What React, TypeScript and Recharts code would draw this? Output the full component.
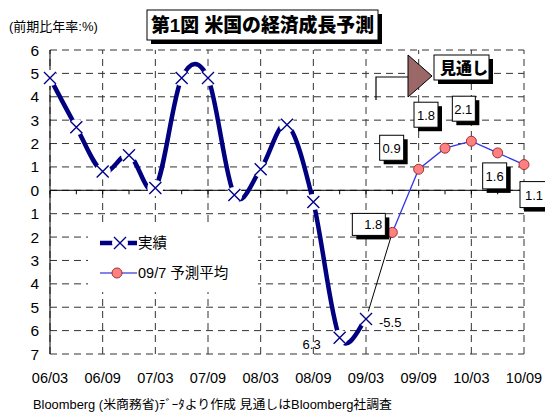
import React from 'react';
import {
  LineChart,
  Line,
  XAxis,
  YAxis,
  CartesianGrid,
  ReferenceLine,
  LabelList,
  Legend,
} from 'recharts';

// 四半期ラベル
const quarters = [
  '06/03', '06/06', '06/09', '06/12',
  '07/03', '07/06', '07/09', '07/12',
  '08/03', '08/06', '08/09', '08/12',
  '09/03', '09/06', '09/09', '09/12',
  '10/03', '10/06', '10/09',
];

// 実績 (前期比年率 %)
const actual = [
  4.8, 2.7, 0.8, 1.5, 0.1, 4.8, 4.8, -0.2, 0.9, 2.8, -0.5, -6.3, -5.5,
  null, null, null, null, null, null,
];

// 09/7 予測平均
const forecast = [
  null, null, null, null, null, null, null, null, null, null, null, null, null,
  -1.8, 0.9, 1.8, 2.1, 1.6, 1.1,
];

// 実績と予測をつなぐ線
const bridge = [
  null, null, null, null, null, null, null, null, null, null, null, null,
  -5.5, -1.8, null, null, null, null, null,
];

const yTicks = [-7, -6, -5, -4, -3, -2, -1, 0, 1, 2, 3, 4, 5, 6];

const data = quarters.map((q, i) => ({
  q,
  actual: actual[i],
  forecast: forecast[i],
  bridge: bridge[i],
}));

const FONT = '"Liberation Sans", Arial, "Noto Sans CJK JP", sans-serif';
const NAVY = '#000080';
const GRID = '#333';

// 予測値ラベルの箱の位置 (点からのずれ)
const boxOffsets: Record<string, { dx: number; dy: number; w: number; h: number }> = {
  '09/06': { dx: -40, dy: -19, w: 33, h: 22 },
  '09/09': { dx: -39, dy: -34, w: 24, h: 25 },
  '09/12': { dx: -31, dy: -46, w: 24, h: 25 },
  '10/03': { dx: -19, dy: -45, w: 23, h: 25 },
  '10/06': { dx: -15, dy: 10, w: 24, h: 26 },
  '10/09': { dx: -4, dy: 17, w: 26, h: 26 },
};

// Excel風のなめらかな線 (Catmull-Rom)
const smoothCurve = (context: any) => {
  let pts: number[][] = [];
  return {
    areaStart() {},
    areaEnd() {},
    lineStart() {
      pts = [];
    },
    point(x: number, y: number) {
      pts.push([+x, +y]);
    },
    lineEnd() {
      if (!pts.length) return;
      context.moveTo(pts[0][0], pts[0][1]);
      for (let i = 0; i < pts.length - 1; i++) {
        const p0 = pts[i - 1] || pts[i];
        const p1 = pts[i];
        const p2 = pts[i + 1];
        const p3 = pts[i + 2] || p2;
        context.bezierCurveTo(
          p1[0] + (p2[0] - p0[0]) / 6,
          p1[1] + (p2[1] - p0[1]) / 6,
          p2[0] - (p3[0] - p1[0]) / 6,
          p2[1] - (p3[1] - p1[1]) / 6,
          p2[0],
          p2[1],
        );
      }
    },
  };
};

const XMark = ({ cx, cy }: { cx: number; cy: number }) => (
  <g>
    <circle cx={cx} cy={cy} r={8} fill="#fff" />
    <path
      d={`M${cx - 6},${cy - 6}L${cx + 6},${cy + 6}M${cx + 6},${cy - 6}L${cx - 6},${cy + 6}`}
      stroke="#00008B"
      strokeWidth={1.4}
      fill="none"
    />
  </g>
);

const renderXDot = (props: any) => {
  const { cx, cy, index } = props;
  if (cx == null || cy == null || props.value == null) return <g key={index} />;
  return <XMark key={index} cx={cx} cy={cy} />;
};

const renderForecastBox = (props: any) => {
  const { x, y, value, index } = props;
  if (value == null || x == null || y == null) return null;
  const o = boxOffsets[quarters[index]];
  if (!o) return null;
  const bx = x + o.dx;
  const by = y + o.dy;
  return (
    <g>
      <rect x={bx + 4} y={by + 4} width={o.w} height={o.h} fill="#000" />
      <rect x={bx} y={by} width={o.w} height={o.h} fill="#fff" stroke="#000" />
      <text
        x={bx + o.w - 3}
        y={by + o.h / 2 + 5}
        textAnchor="end"
        fontSize={13}
        fontFamily={FONT}
        fill="#000"
      >
        {Math.abs(value).toFixed(1)}
      </text>
    </g>
  );
};

const renderActualLabel = (props: any) => {
  const { x, y, index } = props;
  const q = quarters[index];
  if (q === '08/12') {
    return (
      <text x={x - 19} y={y + 11} textAnchor="end" fontSize={13} fontFamily={FONT} fill="#000">
        {Math.abs(actual[index] as number).toFixed(1)}
      </text>
    );
  }
  if (q === '09/03') {
    return (
      <text x={x + 13} y={y + 8} textAnchor="start" fontSize={13} fontFamily={FONT} fill="#000">
        {(actual[index] as number).toFixed(1)}
      </text>
    );
  }
  return null;
};

const renderLegend = () => (
  <div style={{ background: '#fff', width: 170, height: 67 }}>
    <svg width={170} height={67}>
      <line x1={12} x2={49} y1={18} y2={18} stroke={NAVY} strokeWidth={4.5} />
      <XMark cx={32} cy={18} />
      <text x={50} y={23} fontSize={14.5} fontFamily={FONT} fill="#000">
        実績
      </text>
      <line x1={12} x2={49} y1={48} y2={48} stroke="#5a5ae0" strokeWidth={1.6} />
      <circle cx={29} cy={48} r={5} fill="#FF8080" stroke="#A03030" />
      <text x={50} y={53} fontSize={14.5} fontFamily={FONT} fill="#000">
        09/7 予測平均
      </text>
    </svg>
  </div>
);

export default function App() {
  const evenQuarters = quarters.filter((_, i) => i % 2 === 0);
  return (
    <div
      style={{
        position: 'absolute',
        left: 0,
        top: 0,
        width: 545,
        height: 414,
        background: '#fff',
        fontFamily: FONT,
      }}
    >
      <LineChart
        width={545}
        height={414}
        data={data}
        margin={{ top: 50, right: 21, bottom: 30, left: 0 }}
      >
        {/* 横の格子 */}
        <CartesianGrid vertical={false} stroke={GRID} strokeDasharray="7 5" />

        {/* 縦の格子 (半年ごと) */}
        {evenQuarters.map((q) => (
          <ReferenceLine key={'v' + q} x={q} stroke={GRID} strokeDasharray="7 5" />
        ))}

        {/* ゼロ線と目盛り */}
        <ReferenceLine y={0} stroke="#000" />
        {quarters.map((q) => (
          <ReferenceLine
            key={'t' + q}
            segment={[
              { x: q, y: 0 },
              { x: q, y: -0.17 },
            ]}
            stroke="#000"
          />
        ))}

        <XAxis
          dataKey="q"
          interval={1}
          axisLine={false}
          tickLine={false}
          tickSize={6}
          tickMargin={13}
          tick={{ fill: '#000', fontSize: 14.5, fontFamily: FONT }}
        />
        <YAxis
          width={50}
          domain={[-7, 6]}
          ticks={yTicks}
          interval={0}
          tickFormatter={(v: number) => String(Math.abs(v))}
          axisLine={{ stroke: '#000' }}
          tickLine={false}
          tickSize={6}
          tickMargin={5}
          tick={{ fill: '#000', fontSize: 15.5, fontFamily: FONT }}
        />

        <Legend
          layout="horizontal"
          verticalAlign="middle"
          align="center"
          content={renderLegend}
          wrapperStyle={{ left: 88, top: 225, width: 170, height: 67 }}
        />

        {/* 実績から予測へのつなぎ */}
        <Line
          dataKey="bridge"
          type="linear"
          stroke="#000"
          strokeWidth={1}
          dot={false}
          activeDot={false}
          isAnimationActive={false}
          legendType="none"
        />

        {/* 予測平均 */}
        <Line
          dataKey="forecast"
          type="linear"
          stroke="#3535e8"
          strokeWidth={1.3}
          dot={{ r: 5, fill: '#FF8080', stroke: '#A03030', strokeWidth: 1 }}
          activeDot={false}
          isAnimationActive={false}
        >
          <LabelList dataKey="forecast" content={renderForecastBox} />
        </Line>

        {/* 実績 */}
        <Line
          dataKey="actual"
          type={smoothCurve as any}
          stroke={NAVY}
          strokeWidth={4.5}
          dot={renderXDot}
          activeDot={false}
          isAnimationActive={false}
        >
          <LabelList dataKey="actual" content={renderActualLabel} />
        </Line>
      </LineChart>

      {/* タイトル・注記 */}
      <svg
        width={545}
        height={414}
        style={{ position: 'absolute', left: 0, top: 0, pointerEvents: 'none' }}
      >
        <text x={9} y={31} fontSize={13} fontFamily={FONT} fill="#000">
          (前期比年率:%)
        </text>

        <rect x={151} y={14} width={231} height={30} fill="#000" />
        <rect x={147} y={10} width={231} height={30} fill="#fff" stroke="#000" />
        <text
          x={151}
          y={32}
          fontSize={19}
          fontWeight={900}
          fontFamily={FONT}
          fill="#000"
          textLength={223}
          lengthAdjust="spacingAndGlyphs"
        >
          第1図  米国の経済成長予測
        </text>

        <polyline points="376,100 376,77 408,77" fill="none" stroke="#000" strokeWidth={1.2} />
        <polygon points="408,55 408,97 432,76" fill="#9B6767" stroke="#000" />
        <rect x={438} y={59} width={55} height={25} fill="#000" />
        <rect x={434} y={55} width={55} height={25} fill="#fff" stroke="#000" />
        <text x={440} y={74} fontSize={16} fontWeight={900} fontFamily={FONT} fill="#000">
          見通し
        </text>

        <text
          x={33}
          y={409}
          fontSize={12.5}
          fontFamily={FONT}
          fill="#000"
          textLength={359}
          lengthAdjust="spacingAndGlyphs"
        >
          Bloomberg (米商務省)ﾃﾞｰﾀより作成  見通しはBloomberg社調査
        </text>
      </svg>
    </div>
  );
}
